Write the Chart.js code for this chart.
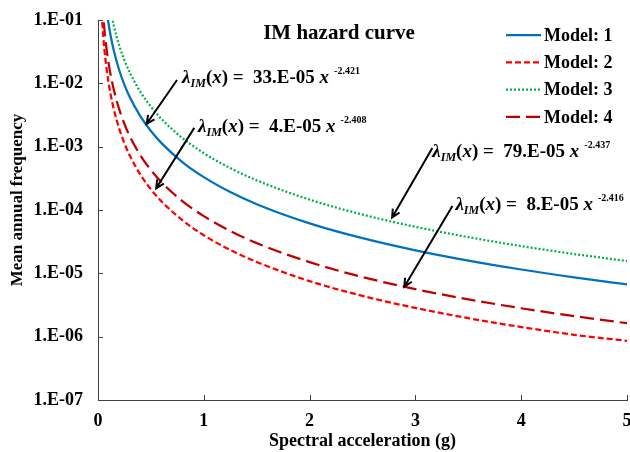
<!DOCTYPE html>
<html>
<head>
<meta charset="utf-8">
<script src="https://cdn.jsdelivr.net/npm/chart.js@4"></script>
<style>
  body { margin: 0; background: #ffffff; }
  canvas { display: block; }
</style>
</head>
<body>
<canvas id="hazardCanvas" width="630" height="452"></canvas>
<script>
// Spectral acceleration (g) sample points
const accel = [0.04, 0.05, 0.06, 0.07, 0.08, 0.1, 0.12, 0.15, 0.2, 0.25, 0.3, 0.4, 0.5, 0.6, 0.8,
               1, 1.25, 1.5, 2, 2.5, 3, 3.5, 4, 4.5, 5];

// Mean annual frequency
const model1 = [0.80, 0.466, 0.300, 0.206, 0.149, 0.0870, 0.0560, 0.0326, 0.01624, 0.00946, 0.00609,
                0.00303, 0.001767, 0.001137, 5.66e-4, 3.3e-4, 1.92e-4, 1.236e-4, 6.16e-5, 3.59e-5,
                2.31e-5, 1.59e-5, 1.15e-5, 8.65e-6, 6.70e-6];
const model2 = [0.0930, 0.0543, 0.0350, 0.0242, 0.01752, 0.01023, 0.00660, 0.00385, 0.001928, 0.001127,
                7.28e-4, 3.63e-4, 2.12e-4, 1.37e-4, 6.85e-5, 4.0e-5, 2.34e-5, 1.51e-5, 7.53e-6, 4.40e-6,
                2.84e-6, 1.96e-6, 1.42e-6, 1.07e-6, 8.6e-7];
const model3 = [2.02, 1.17, 0.750, 0.515, 0.372, 0.216, 0.1386, 0.0804, 0.0399, 0.02317, 0.01486,
                0.00737, 0.00429, 0.00274, 0.001360, 7.9e-4, 4.59e-4, 2.94e-4, 1.459e-4, 8.47e-5,
                5.43e-5, 3.73e-5, 2.69e-5, 2.02e-5, 1.564e-5];
const model4 = [0.191, 0.1113, 0.0716, 0.0494, 0.0357, 0.02085, 0.01342, 0.00783, 0.00391, 0.00228,
                0.001467, 7.32e-4, 4.27e-4, 2.75e-4, 1.371e-4, 8.0e-5, 4.67e-5, 3.0e-5, 1.50e-5, 8.74e-6,
                5.63e-6, 3.88e-6, 2.81e-6, 2.11e-6, 1.63e-6];

const seriesNames = ['Model: 1', 'Model: 2', 'Model: 3', 'Model: 4'];

const xTickValues = [0, 1, 2, 3, 4, 5];
const yTickValues = [1e-7, 1e-6, 1e-5, 1e-4, 1e-3, 1e-2, 1e-1];
const yTickLabels = ['1.E-07', '1.E-06', '1.E-05', '1.E-04', '1.E-03', '1.E-02', '1.E-01'];

// Fitted equations pointed at by arrows (anchors in data units)
const eqCoeffs = ['33.E-05', '4.E-05', '79.E-05', '8.E-05'];
const eqExponents = ['-2.421', '-2.408', '-2.437', '-2.416'];
const eqTextAt = [[0.795, 1.01e-2], [0.946, 1.71e-3], [3.16, 6.9e-4], [3.378, 1.01e-4]];
const eqArrowFrom = [[0.747, 1.13e-2], [0.91, 1.98e-3], [3.16, 9.57e-4], [3.35, 1.16e-4]];
const eqArrowTo = [[0.46, 2.3e-3], [0.55, 2.2e-4], [2.78, 7.6e-5], [2.895, 6.15e-6]];

const FONT = '"Liberation Serif", "Times New Roman", serif';

const styles = [
    { color: '#0070C0', dash: [] },
    { color: '#FF0000', dash: [6, 3] },
    { color: '#00B050', dash: [2, 2] },
    { color: '#C00000', dash: [14, 6] }
];

const seriesData = [model1, model2, model3, model4];

function toPoints(values) {
    return accel.map((a, i) => ({ x: a, y: values[i] }));
}

function drawEquation(ctx, x, y, coeff, expo) {
    const parts = [
        { t: 'λ', f: 'italic bold 19px ' + FONT, dy: 0 },
        { t: 'IM', f: 'italic bold 12px ' + FONT, dy: 4 },
        { t: '(', f: 'bold 19px ' + FONT, dy: 0 },
        { t: 'x', f: 'italic bold 19px ' + FONT, dy: 0 },
        { t: ')', f: 'bold 19px ' + FONT, dy: 0 },
        { t: ' =  ' + coeff + ' ', f: 'bold 19px ' + FONT, dy: 0 },
        { t: 'x', f: 'italic bold 19px ' + FONT, dy: 0 },
        { t: '  ' + expo, f: 'bold 10px ' + FONT, dy: -9 }
    ];
    let cx = x;
    ctx.textAlign = 'left';
    ctx.textBaseline = 'alphabetic';
    parts.forEach(p => {
        ctx.font = p.f;
        ctx.fillText(p.t, cx, y + p.dy);
        cx += ctx.measureText(p.t).width;
    });
}

function drawArrow(ctx, x1, y1, x2, y2) {
    const ang = Math.atan2(y2 - y1, x2 - x1);
    const len = 9;
    ctx.beginPath();
    ctx.moveTo(x1, y1);
    ctx.lineTo(x2, y2);
    ctx.moveTo(x2 - len * Math.cos(ang - 0.45), y2 - len * Math.sin(ang - 0.45));
    ctx.lineTo(x2, y2);
    ctx.lineTo(x2 - len * Math.cos(ang + 0.45), y2 - len * Math.sin(ang + 0.45));
    ctx.stroke();
}

const decorPlugin = {
    id: 'decor',
    afterDraw(chart) {
        const { ctx, chartArea, scales } = chart;
        const xs = scales.x, ys = scales.y;
        ctx.save();

        // inward tick marks
        ctx.strokeStyle = '#404040';
        ctx.lineWidth = 1;
        ctx.beginPath();
        yTickValues.forEach(v => {
            const py = Math.round(ys.getPixelForValue(v)) + 0.5;
            ctx.moveTo(chartArea.left, py);
            ctx.lineTo(chartArea.left + 5, py);
        });
        xTickValues.forEach(v => {
            if (v === 0) return;
            const px = Math.round(xs.getPixelForValue(v)) + 0.5;
            ctx.moveTo(px, chartArea.bottom);
            ctx.lineTo(px, chartArea.bottom - 5);
        });
        ctx.stroke();

        // title
        ctx.fillStyle = '#000000';
        ctx.textAlign = 'center';
        ctx.textBaseline = 'middle';
        ctx.font = 'bold 21px ' + FONT;
        ctx.fillText('IM hazard curve', 339, 34);

        // axis titles
        ctx.font = 'bold 18px ' + FONT;
        ctx.fillText('Spectral acceleration (g)', (chartArea.left + chartArea.right) / 2, 441);
        ctx.save();
        ctx.translate(18, 200);
        ctx.rotate(-Math.PI / 2);
        ctx.font = 'bold 17px ' + FONT;
        ctx.fillText('Mean annual frequency', 0, 0);
        ctx.restore();

        // legend
        ctx.font = 'bold 18px ' + FONT;
        ctx.textAlign = 'left';
        ctx.lineWidth = 2.25;
        seriesNames.forEach((name, i) => {
            const ly = 35 + i * 27.3;
            ctx.strokeStyle = styles[i].color;
            ctx.setLineDash(styles[i].dash);
            ctx.beginPath();
            ctx.moveTo(506, ly);
            ctx.lineTo(541, ly);
            ctx.stroke();
            ctx.setLineDash([]);
            ctx.fillStyle = '#000000';
            ctx.fillText(name, 544, ly + 1);
        });

        // equations and arrows
        ctx.strokeStyle = '#000000';
        ctx.lineWidth = 2;
        ctx.fillStyle = '#000000';
        eqCoeffs.forEach((c, i) => {
            drawArrow(ctx,
                xs.getPixelForValue(eqArrowFrom[i][0]), ys.getPixelForValue(eqArrowFrom[i][1]),
                xs.getPixelForValue(eqArrowTo[i][0]), ys.getPixelForValue(eqArrowTo[i][1]));
            drawEquation(ctx,
                xs.getPixelForValue(eqTextAt[i][0]), ys.getPixelForValue(eqTextAt[i][1]),
                c, eqExponents[i]);
        });
        ctx.restore();
    }
};

new Chart(document.getElementById('hazardCanvas'), {
    type: 'line',
    data: {
        datasets: seriesData.map((vals, i) => ({
            label: seriesNames[i],
            data: toPoints(vals),
            borderColor: styles[i].color,
            borderDash: styles[i].dash,
            borderWidth: 2.25,
            pointRadius: 0,
            fill: false,
            cubicInterpolationMode: 'monotone'
        }))
    },
    options: {
        responsive: false,
        animation: false,
        devicePixelRatio: 1,
        layout: { padding: { top: 20, right: 3, bottom: 0, left: 0 } },
        plugins: {
            legend: { display: false },
            title: { display: false },
            tooltip: { enabled: false }
        },
        scales: {
            x: {
                type: 'linear',
                min: 0,
                max: 5,
                grid: { display: false, drawTicks: false },
                border: { display: true, color: '#404040', width: 1 },
                afterBuildTicks: scale => { scale.ticks = xTickValues.map(v => ({ value: v })); },
                ticks: {
                    padding: 11,
                    color: '#000000',
                    font: { family: FONT, size: 18, weight: 'bold' },
                    callback: v => String(v)
                },
                afterFit: scale => {
                    scale.height = 52;
                    scale.paddingLeft = 0;
                    scale.paddingRight = 0;
                }
            },
            y: {
                type: 'logarithmic',
                min: 1e-7,
                max: 1e-1,
                grid: { display: false, drawTicks: false },
                border: { display: true, color: '#404040', width: 1 },
                afterBuildTicks: scale => { scale.ticks = yTickValues.map(v => ({ value: v })); },
                ticks: {
                    padding: 15,
                    color: '#000000',
                    font: { family: FONT, size: 18, weight: 'bold' },
                    callback: (v, i) => yTickLabels[i]
                },
                afterFit: scale => {
                    scale.width = 98;
                    scale.paddingTop = 0;
                    scale.paddingBottom = 0;
                }
            }
        }
    },
    plugins: [decorPlugin]
});
</script>
</body>
</html>
